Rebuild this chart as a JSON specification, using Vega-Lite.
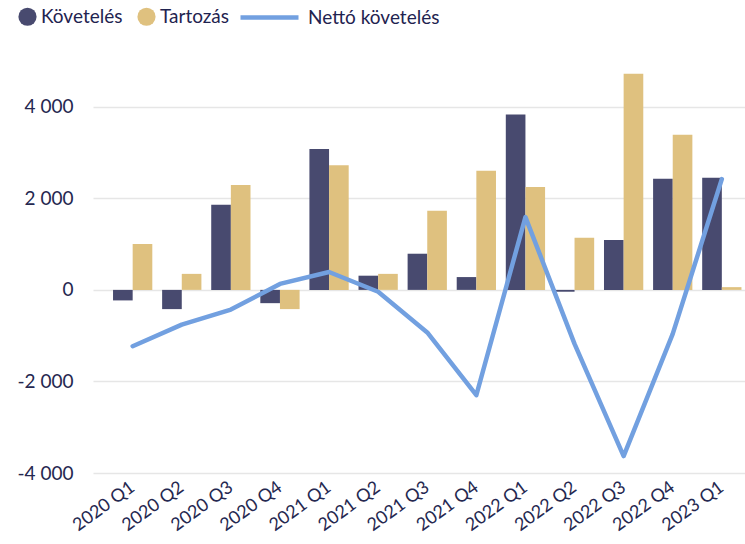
{
  "$schema": "https://vega.github.io/schema/vega-lite/v6.json",
  "width": 652,
  "height": 412,
  "autosize": {"type": "none"},
  "padding": {"left": 93, "top": 61, "right": 0, "bottom": 71},
  "background": "white",
  "config": {"view": {"stroke": null}, "font": "Lato"},
  "datasets": {
    "bars": [
      {"negyedev": "2020 Q1", "sorozat": "Követelés", "ertek": -230},
      {"negyedev": "2020 Q1", "sorozat": "Tartozás", "ertek": 1000},
      {"negyedev": "2020 Q2", "sorozat": "Követelés", "ertek": -420},
      {"negyedev": "2020 Q2", "sorozat": "Tartozás", "ertek": 350},
      {"negyedev": "2020 Q3", "sorozat": "Követelés", "ertek": 1860},
      {"negyedev": "2020 Q3", "sorozat": "Tartozás", "ertek": 2290},
      {"negyedev": "2020 Q4", "sorozat": "Követelés", "ertek": -290},
      {"negyedev": "2020 Q4", "sorozat": "Tartozás", "ertek": -420},
      {"negyedev": "2021 Q1", "sorozat": "Követelés", "ertek": 3080},
      {"negyedev": "2021 Q1", "sorozat": "Tartozás", "ertek": 2720},
      {"negyedev": "2021 Q2", "sorozat": "Követelés", "ertek": 310},
      {"negyedev": "2021 Q2", "sorozat": "Tartozás", "ertek": 350},
      {"negyedev": "2021 Q3", "sorozat": "Követelés", "ertek": 790},
      {"negyedev": "2021 Q3", "sorozat": "Tartozás", "ertek": 1730},
      {"negyedev": "2021 Q4", "sorozat": "Követelés", "ertek": 280},
      {"negyedev": "2021 Q4", "sorozat": "Tartozás", "ertek": 2600},
      {"negyedev": "2022 Q1", "sorozat": "Követelés", "ertek": 3830},
      {"negyedev": "2022 Q1", "sorozat": "Tartozás", "ertek": 2250},
      {"negyedev": "2022 Q2", "sorozat": "Követelés", "ertek": -40},
      {"negyedev": "2022 Q2", "sorozat": "Tartozás", "ertek": 1140},
      {"negyedev": "2022 Q3", "sorozat": "Követelés", "ertek": 1090},
      {"negyedev": "2022 Q3", "sorozat": "Tartozás", "ertek": 4720},
      {"negyedev": "2022 Q4", "sorozat": "Követelés", "ertek": 2430},
      {"negyedev": "2022 Q4", "sorozat": "Tartozás", "ertek": 3390},
      {"negyedev": "2023 Q1", "sorozat": "Követelés", "ertek": 2450},
      {"negyedev": "2023 Q1", "sorozat": "Tartozás", "ertek": 60}
    ],
    "net": [
      {"negyedev": "2020 Q1", "sorozat": "Nettó követelés", "ertek": -1230},
      {"negyedev": "2020 Q2", "sorozat": "Nettó követelés", "ertek": -760},
      {"negyedev": "2020 Q3", "sorozat": "Nettó követelés", "ertek": -430},
      {"negyedev": "2020 Q4", "sorozat": "Nettó követelés", "ertek": 130},
      {"negyedev": "2021 Q1", "sorozat": "Nettó követelés", "ertek": 390},
      {"negyedev": "2021 Q2", "sorozat": "Nettó követelés", "ertek": -40},
      {"negyedev": "2021 Q3", "sorozat": "Nettó követelés", "ertek": -930},
      {"negyedev": "2021 Q4", "sorozat": "Nettó követelés", "ertek": -2300},
      {"negyedev": "2022 Q1", "sorozat": "Nettó követelés", "ertek": 1590},
      {"negyedev": "2022 Q2", "sorozat": "Nettó követelés", "ertek": -1180},
      {"negyedev": "2022 Q3", "sorozat": "Nettó követelés", "ertek": -3630},
      {"negyedev": "2022 Q4", "sorozat": "Nettó követelés", "ertek": -960},
      {"negyedev": "2023 Q1", "sorozat": "Nettó követelés", "ertek": 2420}
    ]
  },
  "layer": [
    {
      "data": {"name": "bars"},
      "mark": {"type": "bar"},
      "encoding": {
        "x": {
          "field": "negyedev",
          "type": "nominal",
          "scale": {
            "domain": ["2020 Q1", "2020 Q2", "2020 Q3", "2020 Q4", "2021 Q1", "2021 Q2", "2021 Q3", "2021 Q4", "2022 Q1", "2022 Q2", "2022 Q3", "2022 Q4", "2023 Q1"],
            "paddingInner": 0.2,
            "paddingOuter": 0.24,
            "align": 0.85
          },
          "axis": {
            "title": null,
            "labelAngle": -36,
            "labelAlign": "right",
            "labelBaseline": "top",
            "labelOffset": -5,
            "domain": false,
            "ticks": false,
            "grid": false,
            "labelFont": "Lato",
            "labelFontSize": 18,
            "labelColor": "#252850",
            "labelPadding": 5
          }
        },
        "xOffset": {
          "field": "sorozat",
          "type": "nominal",
          "sort": ["Követelés", "Tartozás"],
          "scale": {"paddingInner": 0, "paddingOuter": 0}
        },
        "y": {
          "field": "ertek",
          "type": "quantitative",
          "scale": {"domain": [-4000, 5000], "nice": false},
          "axis": {
            "title": null,
            "values": [-4000, -2000, 0, 2000, 4000],
            "labelExpr": "(datum.value < 0 ? '-' : '') + replace(format(abs(datum.value), ','), ',', ' ')",
            "grid": true,
            "gridColor": "#e6e6e6",
            "gridWidth": 1.5,
            "domain": false,
            "ticks": false,
            "labelPadding": 20,
            "labelFont": "Lato",
            "labelFontSize": 19,
            "labelColor": "#252850"
          }
        },
        "fill": {
          "field": "sorozat",
          "type": "nominal",
          "scale": {"domain": ["Követelés", "Tartozás"], "range": ["#484a6f", "#dfc17f"]},
          "legend": {
            "orient": "none",
            "legendX": -75,
            "legendY": -54,
            "direction": "horizontal",
            "title": null,
            "symbolType": "circle",
            "symbolSize": 330,
            "symbolStrokeWidth": 0,
            "labelFont": "Lato",
            "labelFontSize": 19,
            "labelColor": "#1f2350",
            "labelOffset": 4,
            "columnPadding": 14,
            "padding": 0
          }
        }
      }
    },
    {
      "data": {"name": "net"},
      "mark": {"type": "line", "strokeWidth": 4.5, "strokeCap": "round", "strokeJoin": "round"},
      "encoding": {
        "x": {"field": "negyedev", "type": "nominal"},
        "y": {"field": "ertek", "type": "quantitative"},
        "stroke": {
          "field": "sorozat",
          "type": "nominal",
          "scale": {"domain": ["Nettó követelés"], "range": ["#72a0e0"]},
          "legend": {
            "orient": "none",
            "legendX": 145,
            "legendY": -75,
            "direction": "horizontal",
            "title": null,
            "symbolType": "stroke",
            "symbolSize": 3364,
            "symbolStrokeWidth": 4.5,
            "labelFont": "Lato",
            "labelFontSize": 19,
            "labelColor": "#1f2350",
            "labelOffset": 7,
            "padding": 0
          }
        }
      }
    }
  ]
}
